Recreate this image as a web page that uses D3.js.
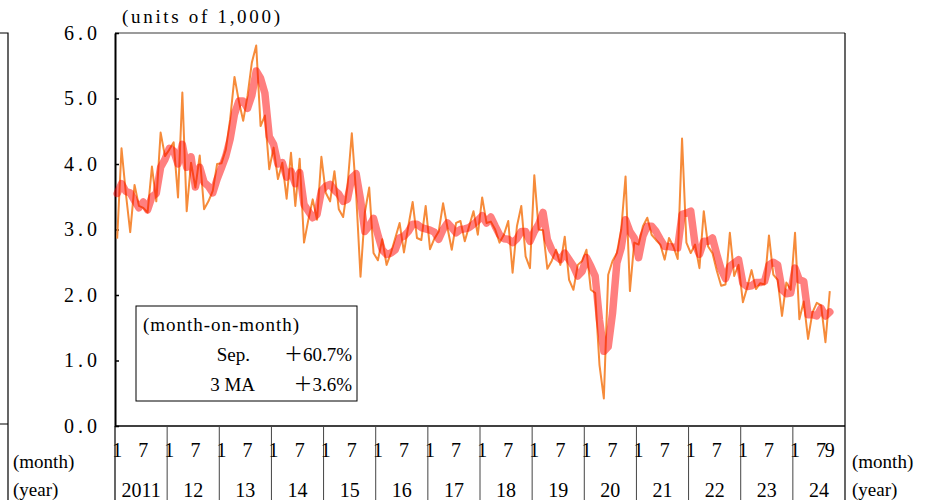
<!DOCTYPE html>
<html>
<head>
<meta charset="utf-8">
<script src="https://cdnjs.cloudflare.com/ajax/libs/d3/7.8.5/d3.min.js"></script>
<style>
  body { margin: 0; background: #fff; }
  svg text { font-family: "Liberation Serif", "DejaVu Serif", "Noto Sans CJK JP", serif; fill: #000; }
</style>
</head>
<body>
<svg id="chart" width="938" height="500"></svg>
<script>
'use strict';

// monthly figures, units of 1,000 (Jan 2011 - Sep 2024), one row per year
var monthly = [
  2.86, 4.24, 3.55, 2.96, 3.68, 3.36, 3.33, 3.26, 3.96, 3.43, 4.48, 4.12,
  4.22, 4.33, 3.49, 5.09, 3.28, 4.02, 3.64, 4.13, 3.31, 3.43, 3.59, 4.00,
  4.01, 4.22, 4.68, 5.33, 4.96, 4.66, 5.04, 5.55, 5.81, 4.58, 4.74, 3.92,
  4.25, 3.77, 4.02, 3.47, 4.17, 3.36, 4.08, 2.80, 3.15, 3.46, 3.15, 4.11,
  3.56, 3.43, 3.89, 3.31, 3.19, 3.66, 4.47, 3.54, 2.28, 3.26, 3.64, 2.64,
  2.53, 2.85, 2.46, 2.64, 2.87, 3.10, 2.65, 3.05, 3.42, 2.87, 2.84, 3.36,
  2.70, 2.86, 2.97, 3.40, 3.03, 2.69, 3.10, 3.13, 2.82, 3.05, 3.28, 2.92,
  3.49, 3.10, 3.12, 3.00, 2.80, 2.92, 3.13, 2.34, 3.05, 3.36, 2.59, 2.41,
  3.83, 3.00, 2.99, 2.40, 2.52, 2.69, 2.46, 2.89, 2.23, 2.08, 2.46, 2.52,
  2.69, 2.08, 2.03, 0.93, 0.42, 2.31, 2.52, 2.64, 3.00, 3.81, 2.06, 2.80,
  2.77, 3.05, 3.18, 2.92, 2.84, 2.77, 2.54, 2.87, 2.74, 2.55, 4.39, 2.80,
  2.64, 2.77, 2.41, 3.28, 2.74, 2.64, 2.37, 2.14, 2.16, 2.95, 2.29, 2.46,
  1.89, 2.12, 2.38, 2.09, 2.18, 2.16, 2.91, 2.31, 2.23, 1.68, 2.19, 2.08,
  2.95, 1.63, 1.90, 1.33, 1.73, 1.88, 1.84, 1.28, 2.06
];

// 3 month moving average
var ma3 = [
  3.55, 3.70, 3.58, 3.56, 3.44, 3.33, 3.42, 3.30, 3.50, 3.55, 3.95, 4.07,
  4.24, 4.20, 4.00, 4.30, 3.95, 4.11, 3.65, 3.95, 3.72, 3.66, 3.56, 3.77,
  3.94, 4.12, 4.38, 4.76, 4.96, 4.96, 4.85, 5.05, 5.42, 5.31, 5.08, 4.42,
  4.30, 4.00, 4.02, 3.80, 3.89, 3.70, 3.87, 3.38, 3.28, 3.18, 3.23, 3.59,
  3.66, 3.69, 3.60, 3.54, 3.43, 3.46, 3.79, 3.85, 3.46, 2.97, 3.05, 3.17,
  2.92, 2.69, 2.62, 2.64, 2.69, 2.87, 2.90, 2.97, 3.08, 3.08, 3.03, 3.01,
  2.99, 2.96, 2.85, 3.00, 3.10, 3.03, 2.95, 3.00, 3.01, 3.03, 3.08, 3.14,
  3.21, 3.10, 3.19, 3.05, 2.92, 2.86, 2.85, 2.80, 2.86, 2.97, 2.97, 2.82,
  2.97, 3.08, 3.26, 2.85, 2.69, 2.59, 2.54, 2.64, 2.54, 2.44, 2.29, 2.36,
  2.57, 2.44, 2.29, 1.62, 1.14, 1.21, 1.72, 2.49, 2.72, 3.15, 2.97, 2.87,
  2.57, 2.90, 3.05, 3.05, 2.97, 2.85, 2.74, 2.74, 2.73, 2.72, 3.23, 3.25,
  3.28, 2.77, 2.62, 2.82, 2.82, 2.87, 2.62, 2.39, 2.25, 2.44, 2.49, 2.54,
  2.18, 2.13, 2.14, 2.19, 2.19, 2.21, 2.46, 2.50, 2.46, 2.08, 2.02, 2.03,
  2.41, 2.23, 2.21, 1.70, 1.70, 1.68, 1.80, 1.68, 1.74
];

var yearLabels = ["2011", "12", "13", "14", "15", "16", "17", "18", "19", "20", "21", "22", "23", "24"];
var monthLabels = ["1", "7"];
var lastMonthLabel = "9";
var yTicks = [0, 1, 2, 3, 4, 5, 6];

var plotLeft = 115, plotRight = 845, plotTop = 33, plotBottom = 426, tableBottom = 500;

var svg = d3.select("#chart");

var x = d3.scaleBand()
    .domain(d3.range(yearLabels.length * 12))
    .range([plotLeft, plotRight]);
var y = d3.scaleLinear()
    .domain([0, 6])
    .range([plotBottom, plotTop]);
var bw = x.bandwidth();
var xc = function(i) { return x(i) + bw / 2; };

// stray frame of the neighbouring panel on the far left
svg.append("path")
    .attr("d", "M0,33H8V500M0,424H8")
    .attr("fill", "none")
    .attr("stroke", "#000")
    .attr("stroke-width", 1.2);

// frame
svg.append("line")
    .attr("x1", plotLeft).attr("x2", plotRight).attr("y1", plotTop).attr("y2", plotTop)
    .attr("stroke", "#7a7a7a").attr("stroke-width", 1.5);
svg.append("line")
    .attr("x1", plotRight).attr("x2", plotRight).attr("y1", plotTop).attr("y2", tableBottom)
    .attr("stroke", "#000").attr("stroke-width", 1.2);
svg.append("line")
    .attr("x1", plotLeft).attr("x2", plotRight).attr("y1", plotBottom).attr("y2", plotBottom)
    .attr("stroke", "#000").attr("stroke-width", 1.5);
svg.append("line")
    .attr("x1", plotLeft).attr("x2", plotLeft).attr("y1", plotBottom).attr("y2", tableBottom)
    .attr("stroke", "#000").attr("stroke-width", 1.2);

// y axis, ticks pointing inward
var yAxis = svg.append("g")
    .attr("transform", "translate(" + plotLeft + ",0)")
    .call(d3.axisLeft(y)
        .tickValues(yTicks)
        .tickSizeInner(-4)
        .tickSizeOuter(0)
        .tickPadding(18)
        .tickFormat(d3.format(".1f")));
yAxis.attr("font-family", null).attr("font-size", null);
yAxis.select(".domain").attr("stroke", "#000").attr("stroke-width", 2);
yAxis.selectAll(".tick line").attr("stroke", "#000").attr("stroke-width", 1.5);
yAxis.selectAll(".tick text")
    .attr("font-size", 20)
    .attr("textLength", 33)
    .attr("lengthAdjust", "spacing");

svg.append("text")
    .attr("x", 122)
    .attr("y", 23)
    .attr("font-size", 19)
    .attr("textLength", 158)
    .attr("lengthAdjust", "spacing")
    .text("(units of 1,000)");

// x axis table: year separators, month and year labels
svg.selectAll(".yearSep")
    .data(yearLabels.slice(1))
    .enter().append("line")
    .attr("class", "yearSep")
    .attr("x1", function(d, j) { return x((j + 1) * 12); })
    .attr("x2", function(d, j) { return x((j + 1) * 12); })
    .attr("y1", plotBottom)
    .attr("y2", tableBottom)
    .attr("stroke", "#444")
    .attr("stroke-width", 1);

var monthTicks = [];
yearLabels.forEach(function(yl, j) {
    monthLabels.forEach(function(m) {
        monthTicks.push({ idx: j * 12 + (+m - 1), label: m });
    });
});
monthTicks.push({ idx: (yearLabels.length - 1) * 12 + (+lastMonthLabel - 1), label: lastMonthLabel });

svg.selectAll(".monthLabel")
    .data(monthTicks)
    .enter().append("text")
    .attr("class", "monthLabel")
    .attr("x", function(d) { return xc(d.idx); })
    .attr("y", 457)
    .attr("text-anchor", "middle")
    .attr("font-size", 20)
    .text(function(d) { return d.label; });

svg.selectAll(".yearLabel")
    .data(yearLabels)
    .enter().append("text")
    .attr("class", "yearLabel")
    .attr("x", function(d, j) { return x(j * 12) + bw * 6; })
    .attr("y", 497)
    .attr("text-anchor", "middle")
    .attr("font-size", 20)
    .text(function(d) { return d; });

[13, 852].forEach(function(px) {
    svg.append("text")
        .attr("x", px).attr("y", 468)
        .attr("font-size", 19)
        .text("(month)");
    svg.append("text")
        .attr("x", px).attr("y", 496)
        .attr("font-size", 19)
        .text("(year)");
});

// series
var line = d3.line()
    .x(function(d, i) { return xc(i); })
    .y(function(d) { return y(d); });

svg.append("path")
    .datum(monthly)
    .attr("fill", "none")
    .attr("stroke", "#f68b3a")
    .attr("stroke-width", 2)
    .attr("stroke-linejoin", "round")
    .attr("d", line);

svg.append("path")
    .datum(ma3)
    .attr("fill", "none")
    .attr("stroke", "#ff0000")
    .attr("stroke-opacity", 0.5)
    .attr("stroke-width", 7.5)
    .attr("stroke-linejoin", "round")
    .attr("stroke-linecap", "round")
    .attr("d", line);

// note box
svg.append("rect")
    .attr("x", 136).attr("y", 306)
    .attr("width", 221).attr("height", 95)
    .attr("fill", "#fff")
    .attr("stroke", "#000")
    .attr("stroke-width", 1);

svg.append("text")
    .attr("x", 143).attr("y", 331)
    .attr("font-size", 19)
    .attr("textLength", 156).attr("lengthAdjust", "spacing")
    .text("(month-on-month)");
svg.append("text")
    .attr("x", 250).attr("y", 361)
    .attr("text-anchor", "end")
    .attr("font-size", 19)
    .text("Sep.");
svg.append("text")
    .attr("x", 352).attr("y", 361)
    .attr("text-anchor", "end")
    .attr("font-size", 19)
    .text("＋60.7%");
svg.append("text")
    .attr("x", 255).attr("y", 391)
    .attr("text-anchor", "end")
    .attr("font-size", 19)
    .text("3 MA");
svg.append("text")
    .attr("x", 352).attr("y", 391)
    .attr("text-anchor", "end")
    .attr("font-size", 19)
    .text("＋3.6%");
</script>
</body>
</html>
